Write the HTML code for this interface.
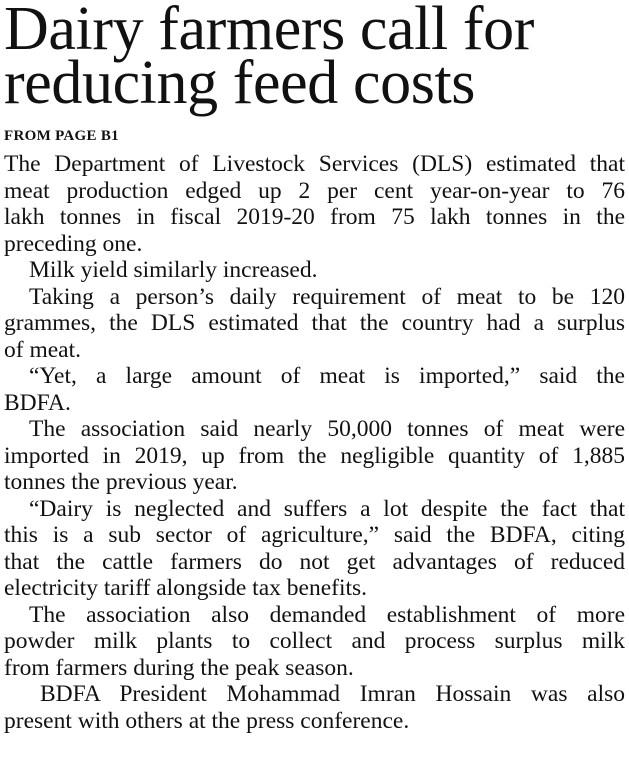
<!DOCTYPE html>
<html><head><meta charset="utf-8">
<style>
html,body{margin:0;padding:0;background:#fff;}
body{width:629px;height:767px;overflow:hidden;font-family:"Liberation Serif",serif;color:#111;}
h1{margin:0;position:absolute;left:4px;top:2px;font-weight:normal;font-size:62px;line-height:54px;letter-spacing:-0.4px;white-space:nowrap;}
.from{position:absolute;left:4px;top:128px;font-size:15px;font-weight:bold;letter-spacing:0.3px;}
.body{position:absolute;left:4px;top:151px;width:621px;font-size:23.5px;line-height:26.5px;}
.l{text-align:justify;text-align-last:justify;white-space:nowrap;height:26.5px;}
.e{text-align:left;text-align-last:left;}
.i{padding-left:25px;}
.i2{padding-left:36px;}
</style></head><body>
<h1>Dairy farmers call for<br>reducing feed costs</h1>
<div class="from">FROM PAGE B1</div>
<div class="body">
<div class="l">The Department of Livestock Services (DLS) estimated that</div>
<div class="l">meat production edged up 2 per cent year-on-year to 76</div>
<div class="l">lakh tonnes in fiscal 2019-20 from 75 lakh tonnes in the</div>
<div class="l e">preceding one.</div>
<div class="l e i">Milk yield similarly increased.</div>
<div class="l i">Taking a person’s daily requirement of meat to be 120</div>
<div class="l">grammes, the DLS estimated that the country had a surplus</div>
<div class="l e">of meat.</div>
<div class="l i">“Yet, a large amount of meat is imported,” said the</div>
<div class="l e">BDFA.</div>
<div class="l i">The association said nearly 50,000 tonnes of meat were</div>
<div class="l">imported in 2019, up from the negligible quantity of 1,885</div>
<div class="l e">tonnes the previous year.</div>
<div class="l i">“Dairy is neglected and suffers a lot despite the fact that</div>
<div class="l">this is a sub sector of agriculture,” said the BDFA, citing</div>
<div class="l">that the cattle farmers do not get advantages of reduced</div>
<div class="l e">electricity tariff alongside tax benefits.</div>
<div class="l i">The association also demanded establishment of more</div>
<div class="l">powder milk plants to collect and process surplus milk</div>
<div class="l e">from farmers during the peak season.</div>
<div class="l i2">BDFA President Mohammad Imran Hossain was also</div>
<div class="l e">present with others at the press conference.</div>
</div>
</body></html>
